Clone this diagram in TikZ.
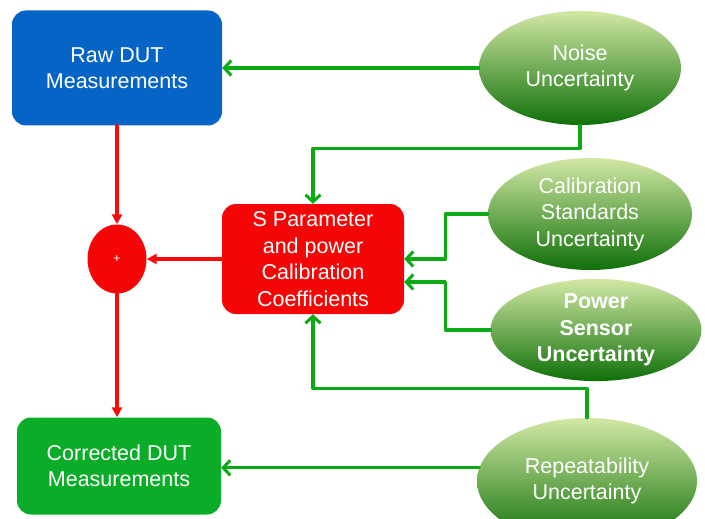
\documentclass[tikz,border=0pt]{standalone}
\usepackage{fontspec}
\setmainfont{Liberation Sans}
\usepackage{tikz}
\usetikzlibrary{shapes.geometric}
\usetikzlibrary{arrows.meta}
\definecolor{rawblue}{RGB}{5,100,198}
\definecolor{coefred}{RGB}{245,5,5}
\definecolor{corrgreen}{RGB}{10,172,40}
\definecolor{wiregreen}{RGB}{10,170,20}
\definecolor{wirered}{RGB}{250,10,10}
\definecolor{ovaltop}{RGB}{210,232,165}
\definecolor{ovalmid}{RGB}{120,178,45}
\definecolor{ovalbot}{RGB}{15,112,8}
\tikzset{
    block/.style={rounded corners=14pt,text=white,align=center,font=\fontsize{21.5}{26.5}\selectfont},
    oval/.style={ellipse,inner sep=0pt,text=white,align=center,font=\fontsize{21.5}{26.5}\selectfont,
        top color=ovaltop,middle color=ovalmid,bottom color=ovalbot},
    redwire/.style={wirered,line width=3.2pt,-{Triangle[length=10pt,width=10pt]}},
    greenwire/.style={wiregreen,line width=3.2pt,-{Straight Barb[length=7pt,width=15pt,line width=3pt]}}
}

\begin{document}
\begin{tikzpicture}[x=1pt,y=-1pt,line cap=round,line join=round]
    \def\bend{42}
    \def\offset{23}
    \clip (0,0) rectangle (705,519);
    \useasboundingbox (0,0) rectangle (705,519);
    % boxes
    \node[block,fill=rawblue,minimum width=210pt,minimum height=115pt] (raw) at (117,68) {Raw DUT\\Measurements};
    \node[block,fill=coefred,minimum width=182pt,minimum height=110pt] (coef) at (313,259) {S Parameter\\and power\\Calibration\\Coefficients};
    \node[block,fill=corrgreen,minimum width=204pt,minimum height=97pt] (corr) at (119,466) {Corrected DUT\\Measurements};
    \node[ellipse,fill=coefred,minimum width=59pt,minimum height=69pt,inner sep=0pt,text=white,font=\fontsize{12}{12}\selectfont] (sum) at (117,259) {+};
    % uncertainties
    \node[oval,minimum width=202pt,minimum height=114pt] (noise) at (580,68) {Noise\\Uncertainty};
    \node[oval,minimum width=204pt,minimum height=112pt] (calstd) at (590,214) {Calibration\\Standards\\Uncertainty};
    \node[oval,minimum width=211pt,minimum height=95pt,font=\fontsize{21.5}{26.5}\selectfont\bfseries] (sensor) at (596,330) {Power\\Sensor\\Uncertainty};
    \node[oval,minimum width=220pt,minimum height=126pt] (repeat) at (587,481) {Repeatability\\Uncertainty};
    % red path
    \draw[redwire] (raw.south -| sum.north) -- (sum.north);
    \draw[redwire] (coef.west) -- (sum.east);
    \draw[redwire] (sum.south) -- (sum.south |- corr.north);
    % green path
    \draw[greenwire] (noise.west) -- (raw.east);
    \draw[greenwire] (noise.south) -- ++(0,\offset) -| (coef.north);
    \draw[greenwire] (calstd.west) -- ++(-\bend,0) |- (coef.east);
    \draw[greenwire] (sensor.west) -- ++(-\bend-3,0) |- ([yshift=-\offset pt]coef.east);
    \draw[greenwire] (repeat.north) -- ++(0,-29) -| (coef.south);
    \draw[greenwire] (repeat.173) -- (repeat.173 -| corr.east);
\end{tikzpicture}
\end{document}
